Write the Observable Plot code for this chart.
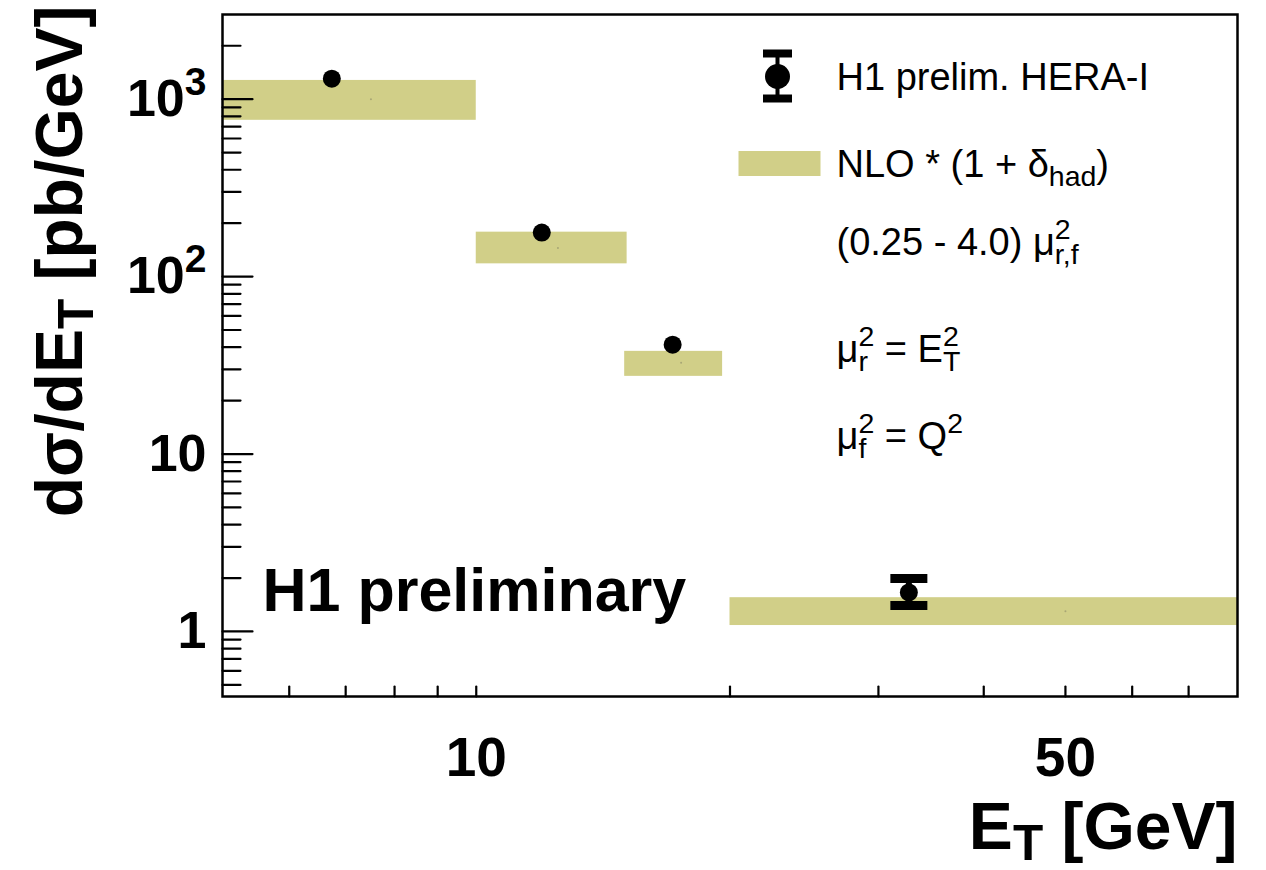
<!DOCTYPE html>
<html>
<head>
<meta charset="utf-8">
<script src="https://cdn.jsdelivr.net/npm/d3@7"></script>
<script src="https://cdn.jsdelivr.net/npm/@observablehq/plot@0.6"></script>
<style>
  html, body { margin: 0; padding: 0; background: #fff; }
  svg { display: block; }
</style>
</head>
<body>
<script>
// ---- data ----
// H1 preliminary HERA-I measurement
const dataET   = [6.74, 11.96, 17.1, 32.6];
const dataXsec = [1304, 177, 41.3, 1.66];
const errLow   = [null, null, null, 1.40];
const errHigh  = [null, null, null, 1.99];

// NLO * (1 + delta_had) bands (scale variation)
const binLow   = [5, 10, 15, 20];
const binHigh  = [10, 15.1, 19.6, 80];
const binMid   = [7.5, 12.5, 17.5, 50];
const nloLow   = [760, 118, 27.4, 1.08];
const nloHigh  = [1275, 178, 37.9, 1.55];
const nloCen   = [1000, 145, 32.7, 1.30];

// axis ticks / labels
const xLabelTicks = [10, 50];
const xLabels     = ["10", "50"];
const xMinorTicks = [6, 7, 8, 9, 10, 20, 30, 40, 50, 60, 70];
const yLabelTicks = [1, 10, 100, 1000];
const yLabels     = ["1", "10", "10^{2}", "10^{3}"];
const yMinorTicks = [0.5, 0.6, 0.7, 0.8, 0.9, 2, 3, 4, 5, 6, 7, 8, 9, 20, 30, 40, 50, 60, 70, 80, 90,
                     200, 300, 400, 500, 600, 700, 800, 900, 2000];

const legendLabels = ["H1 prelim. HERA-I", "NLO * (1 + δ_{had})", "(0.25 - 4.0) μ^{2}_{r,f}",
                      "μ^{2}_{r} = E^{2}_{T}", "μ^{2}_{f} = Q^{2}"];
const xTitle = "E_{T} [GeV]";
const yTitle = "dσ/dE_{T} [pb/GeV]";
const stamp  = "H1 preliminary";

// ---- tables ----
const points = dataET.map((x, i) => ({x, y: dataXsec[i], lo: errLow[i], hi: errHigh[i]}));
const errs = points.filter(d => d.lo != null);
const bands = binLow.map((x1, i) => ({x1, x2: binHigh[i], y1: nloLow[i], y2: nloHigh[i], xm: binMid[i], ym: nloCen[i]}));

const BAND = "#d1cf88";
const FONT = "'Liberation Sans', Arial, Helvetica, sans-serif";

const tickShape = {draw(ctx, l) { ctx.moveTo(0, 0); ctx.lineTo(0, -l); }};
const capSymbol = {draw(ctx) { ctx.rect(-18.5, -4.5, 37, 9); }};
const legCap = {draw(ctx) { ctx.rect(-14.5, -4, 29, 8); }};
const swatchSymbol = {draw(ctx) { ctx.rect(-41, -12.5, 82, 25); }};
const legendDy = [75, 162, 240, 347, 434];

const chart = Plot.plot({
  width: 1266,
  height: 870,
  marginLeft: 222,
  marginRight: 29,
  marginTop: 14,
  marginBottom: 174,
  style: {fontFamily: FONT, color: "black", background: "white"},
  x: {type: "log", domain: [5, 80]},
  y: {type: "log", domain: [0.43, 3000]},
  marks: [
    // NLO bands
    Plot.rect(bands, {x1: "x1", x2: "x2", y1: "y1", y2: "y2", fill: BAND}),
    Plot.dot(bands, {x: "xm", y: "ym", r: 1, fill: "#a8a675", stroke: "none"}),
    // data error bars
    Plot.ruleX(errs, {x: "x", y1: "lo", y2: "hi", stroke: "black", strokeWidth: 6}),
    Plot.dot(errs, {x: "x", y: "lo", symbol: capSymbol, fill: "black", stroke: "none"}),
    Plot.dot(errs, {x: "x", y: "hi", symbol: capSymbol, fill: "black", stroke: "none"}),
    // data points
    Plot.dot(points, {x: "x", y: "y", r: 9, fill: "black", stroke: "none"}),
    // frame
    Plot.frame({stroke: "black", strokeWidth: 2.5}),
    // ticks (inside)
    Plot.vector(yLabelTicks, {y: d => d, frameAnchor: "left", rotate: 90, length: 30, anchor: "start", shape: tickShape, stroke: "black", strokeWidth: 2.2}),
    Plot.vector(yMinorTicks, {y: d => d, frameAnchor: "left", rotate: 90, length: 18, anchor: "start", shape: tickShape, stroke: "black", strokeWidth: 2.2}),
    Plot.vector(xMinorTicks, {x: d => d, frameAnchor: "bottom", rotate: 0, length: 10, anchor: "start", shape: tickShape, stroke: "black", strokeWidth: 2.2}),
    // tick labels
    Plot.axisX(xLabelTicks, {tickSize: 0, tickPadding: 40, fontSize: 55, fontWeight: "bold", label: null,
      tickFormat: d => xLabels[xLabelTicks.indexOf(d)]}),
    Plot.axisY(yLabelTicks, {tickSize: 0, tickPadding: 16, fontSize: 52, fontWeight: "bold", label: null,
      tickFormat: d => yLabels[yLabelTicks.indexOf(d)]}),
    // axis titles
    Plot.text([xTitle], {frameAnchor: "bottom-right", dx: 0, dy: 152, textAnchor: "end", lineAnchor: "bottom",
      fontSize: 66, fontWeight: "bold", fill: "black"}),
    Plot.text([yTitle], {frameAnchor: "top-left", dx: -141, dy: -9, rotate: -90, textAnchor: "end", lineAnchor: "bottom",
      fontSize: 66, fontWeight: "bold", fill: "black"}),
    // stamp
    Plot.text([stamp], {frameAnchor: "top-left", dx: 40, dy: 596, textAnchor: "start", lineAnchor: "bottom",
      fontSize: 61, fontWeight: "bold", fill: "black"}),
    // legend markers
    Plot.vector([0], {frameAnchor: "top-left", dx: 555, dy: 39, rotate: 180, length: 45, anchor: "start", shape: tickShape, stroke: "black", strokeWidth: 4}),
    Plot.dot([0], {frameAnchor: "top-left", dx: 555, dy: 39, symbol: legCap, fill: "black", stroke: "none"}),
    Plot.dot([0], {frameAnchor: "top-left", dx: 555, dy: 84, symbol: legCap, fill: "black", stroke: "none"}),
    Plot.dot([0], {frameAnchor: "top-left", dx: 555, dy: 62, r: 12.5, fill: "black", stroke: "none"}),
    Plot.dot([0], {frameAnchor: "top-left", dx: 557, dy: 149, symbol: swatchSymbol, fill: BAND, stroke: "none"}),
    // legend texts
    ...legendLabels.map((t, i) => Plot.text([t], {frameAnchor: "top-left", dx: 614, dy: legendDy[i],
      textAnchor: "start", lineAnchor: "bottom", fontSize: 38, fill: "black"}))
  ]
});

document.body.appendChild(chart);

// ---- rich text: ^{sup} and _{sub}, stacked when adjacent ----
const NS = "http://www.w3.org/2000/svg";
function richify(el) {
  const raw = el.textContent;
  if (!/[\^_]\{/.test(raw)) return;
  const fs = parseFloat(getComputedStyle(el).fontSize);
  const subShift = fs > 60 ? 0.18 : 0.26;
  const re = /([\^_])\{([^}]*)\}|([^\^_]+)/g;
  const toks = [];
  let m;
  while ((m = re.exec(raw))) toks.push(m[3] != null ? {t: "n", s: m[3]} : {t: m[1], s: m[2]});
  while (el.firstChild) el.removeChild(el.firstChild);
  let cur = 0, prev = null, pendingAdvance = 0;
  for (const tok of toks) {
    const ts = document.createElementNS(NS, "tspan");
    ts.textContent = tok.s;
    const target = tok.t === "^" ? -0.40 * fs : tok.t === "_" ? subShift * fs : 0;
    ts.setAttribute("dy", (target - cur).toFixed(2));
    cur = target;
    if (tok.t !== "n") ts.setAttribute("font-size", (0.75 * fs).toFixed(2));
    el.appendChild(ts);
    if (prev && tok.t !== "n" && prev.t !== tok.t) {
      const w1 = prev.el.getComputedTextLength();
      ts.setAttribute("dx", (-w1).toFixed(2));
      const w2 = ts.getComputedTextLength();
      pendingAdvance = Math.max(0, w1 - w2);
      prev = null;
    } else if (tok.t === "n") {
      if (pendingAdvance) ts.setAttribute("dx", pendingAdvance.toFixed(2));
      pendingAdvance = 0;
      prev = null;
    } else {
      prev = {t: tok.t, el: ts};
    }
  }
}
chart.querySelectorAll("text").forEach(richify);
</script>
</body>
</html>
